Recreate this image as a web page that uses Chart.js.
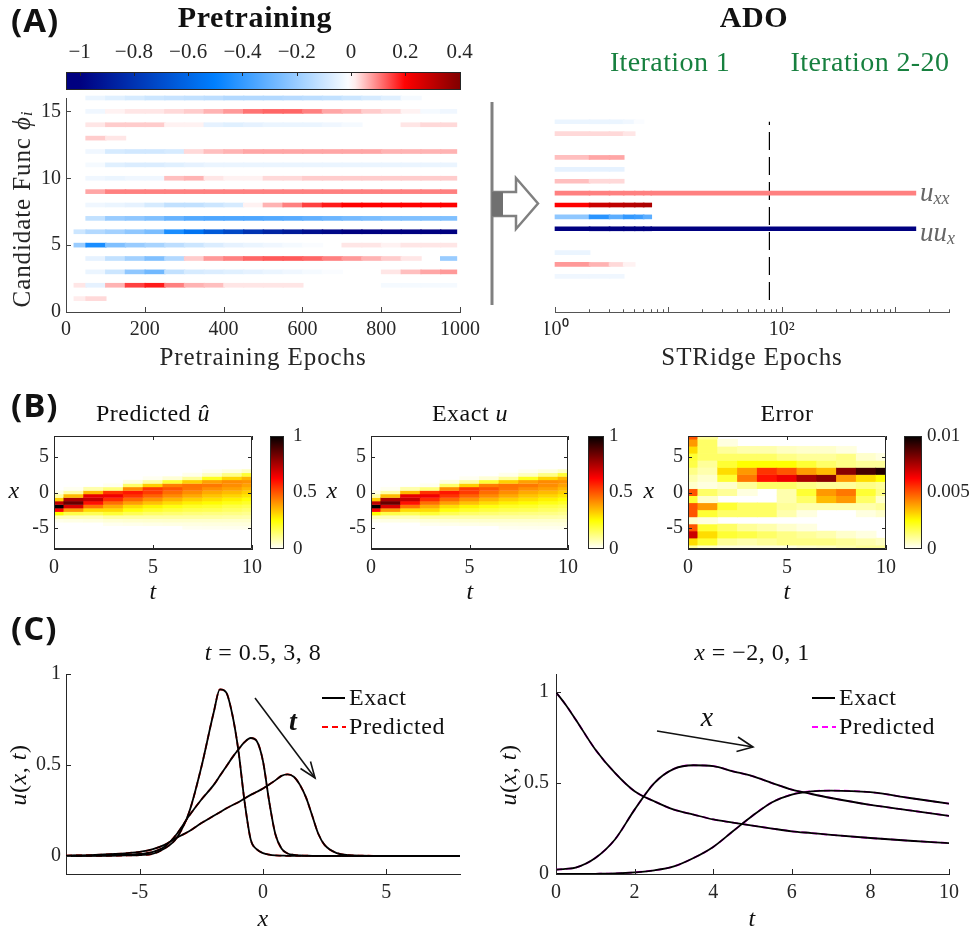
<!DOCTYPE html>
<html>
<head>
<meta charset="utf-8">
<script src="https://cdn.jsdelivr.net/npm/chart.js@4.4.0/dist/chart.umd.min.js"></script>
<style>
body { margin: 0; background: #fff; width: 969px; height: 937px; position: relative; overflow: hidden; }
canvas { position: absolute; }
#deco { position: absolute; left: 0; top: 0; pointer-events: none; }
</style>
</head>
<body>
<canvas id="cA"></canvas>
<canvas id="pre"></canvas>
<canvas id="ado"></canvas>
<canvas id="b1"></canvas><canvas id="cb1"></canvas>
<canvas id="b2"></canvas><canvas id="cb2"></canvas>
<canvas id="b3"></canvas><canvas id="cb3"></canvas>
<canvas id="c1"></canvas>
<canvas id="c2"></canvas>

<svg id="deco" width="969" height="937" font-family="Liberation Serif, Times New Roman, serif" fill="#111">
  <g font-family="Open Sans, sans-serif" font-weight="700" font-size="33" dominant-baseline="central" letter-spacing="1">
    <text x="11" y="19">(A)</text>
    <text x="11" y="404">(B)</text>
    <text x="11" y="627">(C)</text>
  </g>
  <g font-weight="700" font-size="30" text-anchor="middle" dominant-baseline="central" letter-spacing="0.6">
    <text x="255" y="16">Pretraining</text>
    <text x="754" y="16">ADO</text>
  </g>
  <g fill="#17803f" font-size="28" text-anchor="middle" dominant-baseline="central" letter-spacing="0.4">
    <text x="670" y="61">Iteration 1</text>
    <text x="870" y="61">Iteration 2-20</text>
  </g>
  <g font-size="25" text-anchor="middle" dominant-baseline="central" letter-spacing="0.9" fill="#262626">
    <text transform="translate(21 209) rotate(-90)">Candidate Func <tspan font-style="italic">ϕ</tspan><tspan font-style="italic" font-size="17" dy="5">i</tspan></text>
    <text x="263" y="356">Pretraining Epochs</text>
    <text x="752" y="356">STRidge Epochs</text>
  </g>
  <g fill="#666" font-size="27" font-style="italic" dominant-baseline="central">
    <text x="920" y="192">u<tspan font-size="18" dy="6">xx</tspan></text>
    <text x="920" y="232">uu<tspan font-size="18" dy="6">x</tspan></text>
  </g>
  <line x1="492" y1="102" x2="492" y2="305" stroke="#808080" stroke-width="3"/>
  <polygon points="493,192 516,192 516,178 538,203.5 516,229 516,216 493,216" fill="#fff" stroke="#808080" stroke-width="2.5"/>
  <rect x="492" y="192" width="11" height="24" fill="#707070"/>

  <g font-size="24" text-anchor="middle" dominant-baseline="central" letter-spacing="0.5" fill="#111">
    <text x="153" y="413">Predicted <tspan font-style="italic">û</tspan></text>
    <text x="470" y="413">Exact <tspan font-style="italic">u</tspan></text>
    <text x="787" y="413">Error</text>
    <text x="153" y="591" font-style="italic">t</text>
    <text x="470" y="591" font-style="italic">t</text>
    <text x="787" y="591" font-style="italic">t</text>
    <text x="14" y="490" font-style="italic">x</text>
    <text x="332" y="490" font-style="italic">x</text>
    <text x="649" y="490" font-style="italic">x</text>
    <text x="263" y="652"><tspan font-style="italic">t</tspan> = 0.5, 3, 8</text>
    <text x="752" y="652"><tspan font-style="italic">x</tspan> = −2, 0, 1</text>
    <text x="263" y="918" font-style="italic">x</text>
    <text x="752" y="918" font-style="italic">t</text>
    <text transform="translate(18 775) rotate(-90)"><tspan font-style="italic">u</tspan>(<tspan font-style="italic">x</tspan>, <tspan font-style="italic">t</tspan>)</text>
    <text transform="translate(508 775) rotate(-90)"><tspan font-style="italic">u</tspan>(<tspan font-style="italic">x</tspan>, <tspan font-style="italic">t</tspan>)</text>
  </g>

  <g stroke="#111" stroke-width="1.6" fill="none">
    <line x1="255" y1="698" x2="315" y2="778"/>
    <polyline points="300.5,768.5 315,778 310.5,761.5"/>
    <line x1="657" y1="731" x2="753" y2="747"/>
    <polyline points="738,737 753,747 736.5,751.5"/>
  </g>
  <text x="293" y="720" font-size="28" font-weight="700" font-style="italic" text-anchor="middle" dominant-baseline="central">t</text>
  <text x="707" y="716" font-size="28" font-style="italic" text-anchor="middle" dominant-baseline="central">x</text>

  <g stroke-width="2">
    <line x1="322" y1="698" x2="345" y2="698" stroke="#000"/>
    <line x1="322" y1="727" x2="346" y2="727" stroke="#ff0000" stroke-dasharray="6,4"/>
    <line x1="812" y1="698" x2="835" y2="698" stroke="#000"/>
    <line x1="812" y1="727" x2="836" y2="727" stroke="#ff00ff" stroke-dasharray="6,4"/>
  </g>
  <g font-size="24" dominant-baseline="central" letter-spacing="0.6">
    <text x="349" y="697">Exact</text>
    <text x="349" y="726">Predicted</text>
    <text x="839" y="697">Exact</text>
    <text x="839" y="726">Predicted</text>
  </g>
</svg>

<script>
// ---------------- data ----------------

// (A) pretraining: coefficient of each candidate function, per epoch bin
var epochEdges = [20, 50, 100, 150, 200, 250, 300, 350, 400, 450, 500, 550, 600, 650, 700, 750, 800, 850, 900, 950, 990]
var coef1  = [0.015, 0.03, 0, 0, 0, 0, 0, 0, 0, 0, 0, 0, 0, 0, 0, 0, 0, 0, 0, 0]
var coef2  = [0.02, -0.05, 0.06, 0.15, 0.18, 0.1, 0.06, 0.05, 0.02, 0.02, 0.02, 0.02, 0, 0, 0, 0, -0.02, -0.02, -0.02, -0.02]
var coef3  = [0, -0.04, -0.1, -0.22, -0.28, -0.12, -0.08, -0.07, -0.06, -0.05, -0.04, -0.03, -0.02, -0.01, 0, 0, 0.02, 0.05, 0.07, 0.08]
var coef4  = [0, -0.05, -0.12, -0.18, -0.25, -0.15, 0.04, 0.08, 0.1, 0.12, 0.13, 0.13, 0.12, 0.1, 0.08, 0.06, 0.04, 0.02, 0, -0.2]
var coef5  = [-0.2, -0.45, -0.25, -0.2, -0.17, -0.13, -0.1, -0.07, -0.05, -0.04, -0.03, -0.02, -0.01, 0, 0.02, 0.02, 0.01, 0.02, 0.02, 0.02]
var coef6  = [-0.1, -0.15, -0.18, -0.22, -0.26, -0.45, -0.55, -0.65, -0.72, -0.8, -0.86, -0.9, -0.94, -0.97, -1, -1, -1, -1, -1, -1]
var coef7  = [0, -0.12, -0.2, -0.22, -0.25, -0.3, -0.34, -0.35, -0.35, -0.35, -0.34, -0.33, -0.31, -0.29, -0.27, -0.26, -0.25, -0.25, -0.25, -0.25]
var coef8  = [0, -0.03, -0.04, -0.05, -0.08, -0.12, -0.12, -0.1, -0.08, 0.01, 0.06, 0.1, 0.15, 0.18, 0.2, 0.2, 0.2, 0.2, 0.2, 0.2]
var coef9  = [0, 0.07, 0.1, 0.1, 0.1, 0.1, 0.1, 0.1, 0.1, 0.1, 0.1, 0.1, 0.1, 0.1, 0.1, 0.1, 0.1, 0.1, 0.1, 0.1]
var coef10 = [0, -0.03, -0.04, -0.03, -0.03, 0.05, 0.06, 0.02, 0.01, 0.01, 0.03, 0.03, 0.04, 0.04, 0.04, 0.04, 0.04, 0.04, 0.04, 0.04]
var coef11 = [0, -0.02, -0.06, -0.07, -0.07, -0.06, -0.05, -0.04, -0.04, -0.04, -0.04, -0.04, -0.04, -0.04, -0.04, -0.04, -0.04, -0.04, -0.04, -0.04]
var coef12 = [0, -0.03, -0.08, -0.09, -0.09, -0.08, 0.03, 0.05, 0.06, 0.07, 0.07, 0.07, 0.07, 0.07, 0.07, 0.07, 0.06, 0.06, 0.06, 0.06]
var coef13 = [0, 0.04, 0.02, 0, 0, 0, 0, 0, 0, 0, 0, 0, 0, 0, 0, 0, 0, 0, 0, 0]
var coef14 = [0, 0.02, 0.04, 0.04, 0.04, 0.01, 0.01, -0.05, -0.06, -0.05, -0.04, -0.04, -0.04, -0.03, -0.02, 0, 0, 0.02, 0.03, 0.03]
var coef15 = [0, -0.03, 0.01, 0.02, 0.02, 0.03, 0.04, 0.06, 0.08, 0.11, 0.12, 0.12, 0.1, 0.07, 0.06, 0.04, 0.03, 0.01, -0.02, -0.03]
var coef16 = [0, -0.04, -0.06, -0.08, -0.1, -0.11, -0.12, -0.13, -0.15, -0.15, -0.15, -0.14, -0.13, -0.12, -0.1, -0.08, -0.06, -0.02, 0, 0]
var pretrainRows = [coef1, coef2, coef3, coef4, coef5, coef6, coef7, coef8, coef9, coef10, coef11, coef12, coef13, coef14, coef15, coef16]
var epochTicks = [0, 200, 400, 600, 800, 1000]
var funcTicks = [0, 5, 10, 15]
var cbTicksA = [-1, -0.8, -0.6, -0.4, -0.2, 0, 0.2, 0.4]
var cbRangeA = [-1.05, 0.405]

// (A) ADO: STRidge epochs (log axis), coefficient per segment
var adoEdges = [1, 2, 3, 4, 5, 6, 7, 1500]
var adoRowIds = [15, 14, 12, 11, 10, 9, 8, 7, 6, 4, 3, 2]
var ado15 = [-0.04, -0.04, -0.04, -0.03, -0.01, 0, 0]
var ado14 = [0.03, 0.03, 0.03, 0.02, 0, 0, 0]
var ado12 = [0.05, 0.07, 0.07, 0, 0, 0, 0]
var ado11 = [-0.05, -0.05, -0.05, 0, 0, 0, 0]
var ado10 = [0.05, 0.03, 0.03, 0, 0, 0, 0]
var ado9  = [0.1, 0.1, 0.1, 0.1, 0.1, 0.1, 0.1]
var ado8  = [0.2, 0.28, 0.3, 0.31, 0.32, 0.33, 0]
var ado7  = [-0.22, -0.42, -0.32, -0.4, -0.38, -0.32, 0]
var ado6  = [-1, -1, -1, -1, -1, -1, -1]
var ado4  = [-0.04, 0, 0, 0, 0, 0, 0]
var ado3  = [0.08, 0.06, 0.03, 0.01, 0, 0, 0]
var ado2  = [-0.03, -0.03, -0.03, 0, 0, 0, 0]
var adoRows = [ado15, ado14, ado12, ado11, ado10, ado9, ado8, ado7, ado6, ado4, ado3, ado2]
var adoSwitch = 78
var adoTickLabels = { 1: '10⁰', 100: '10²' }

// (B) u(x, t): one column per t, rows are x = -6 ... 4 (step 0.5)
var fieldT = [0, 1, 2, 3, 4, 5, 6, 7, 8, 9, 10]
var fieldX = [-6, -5.5, -5, -4.5, -4, -3.5, -3, -2.5, -2, -1.5, -1, -0.5, 0, 0.5, 1, 1.5, 2, 2.5, 3, 3.5, 4]
var uCols = [
  [0, 0, 0.002, 0.006, 0.02, 0.07, 0.25, 0.62, 1.0, 0.72, 0.32, 0.09, 0.024, 0.005, 0.001, 0, 0, 0, 0, 0, 0],
  [0, 0.001, 0.003, 0.008, 0.025, 0.07, 0.18, 0.4, 0.685, 0.85, 0.75, 0.35, 0.088, 0.015, 0.002, 0, 0, 0, 0, 0, 0],
  [0.001, 0.002, 0.005, 0.012, 0.03, 0.07, 0.17, 0.3, 0.455, 0.6, 0.71, 0.66, 0.354, 0.08, 0.009, 0.001, 0, 0, 0, 0, 0],
  [0.002, 0.004, 0.008, 0.016, 0.04, 0.09, 0.2, 0.3, 0.37, 0.46, 0.56, 0.645, 0.55, 0.13, 0.015, 0.003, 0.001, 0, 0, 0, 0],
  [0.003, 0.006, 0.01, 0.02, 0.045, 0.09, 0.17, 0.24, 0.3, 0.39, 0.47, 0.55, 0.593, 0.42, 0.149, 0.03, 0.004, 0.001, 0, 0, 0],
  [0.004, 0.007, 0.012, 0.024, 0.048, 0.09, 0.15, 0.21, 0.266, 0.34, 0.41, 0.48, 0.538, 0.54, 0.32, 0.09, 0.015, 0.002, 0, 0, 0],
  [0.005, 0.008, 0.014, 0.026, 0.05, 0.09, 0.14, 0.19, 0.235, 0.3, 0.36, 0.42, 0.464, 0.5, 0.437, 0.2, 0.04, 0.006, 0.001, 0, 0],
  [0.006, 0.009, 0.015, 0.028, 0.05, 0.09, 0.13, 0.175, 0.215, 0.27, 0.32, 0.375, 0.418, 0.455, 0.459, 0.32, 0.1, 0.02, 0.003, 0, 0],
  [0.007, 0.01, 0.017, 0.03, 0.05, 0.09, 0.125, 0.17, 0.205, 0.255, 0.295, 0.335, 0.375, 0.415, 0.448, 0.39, 0.22, 0.06, 0.015, 0.004, 0.001],
  [0.008, 0.011, 0.018, 0.031, 0.05, 0.085, 0.12, 0.155, 0.183, 0.23, 0.27, 0.31, 0.35, 0.39, 0.418, 0.42, 0.31, 0.12, 0.03, 0.006, 0.001],
  [0.009, 0.012, 0.019, 0.032, 0.05, 0.08, 0.11, 0.14, 0.17, 0.21, 0.245, 0.285, 0.32, 0.355, 0.387, 0.41, 0.36, 0.2, 0.06, 0.012, 0.002]
]
// (B) |u - û|: one column per t, rows are x = -8 ... 8 (step 1)
var errX = [-8, -7, -6, -5, -4, -3, -2, -1, 0, 1, 2, 3, 4, 5, 6, 7, 8]
var errCols = [
  [0.001, 0.003, 0.007, 0.005, 0.0005, 0.005, 0.005, 0.002, 0.005, 0.0005, 0.0008, 0.0012, 0.0018, 0.002, 0.003, 0.004, 0.005],
  [0.0005, 0.002, 0.003, 0.002, 0.0003, 0.002, 0.004, 0.0005, 0.0015, 0.0003, 0.0005, 0.0008, 0.001, 0.0015, 0.0015, 0.0015, 0.001],
  [0.0003, 0.001, 0.002, 0.0015, 0, 0.0015, 0.002, 0, 0.001, 0.0005, 0.002, 0.003, 0.002, 0.0015, 0.001, 0.0003, 0],
  [0.0003, 0.0008, 0.0018, 0.001, 0, 0.0015, 0.0015, 0, 0.0003, 0.001, 0.0045, 0.004, 0.0025, 0.0015, 0.0008, 0, 0],
  [0.0003, 0.001, 0.0015, 0.0008, 0, 0.0015, 0.0015, 0, 0, 0.0015, 0.006, 0.0055, 0.0025, 0.0015, 0.0008, 0, 0],
  [0.0003, 0.0012, 0.0012, 0.0005, 0, 0.0008, 0.001, 0.0008, 0.0008, 0.0015, 0.0065, 0.005, 0.0025, 0.0012, 0.0006, 0, 0],
  [0.0005, 0.0012, 0.001, 0.0003, 0, 0.0003, 0.0008, 0.0015, 0.002, 0.0012, 0.0075, 0.004, 0.002, 0.001, 0.0005, 0, 0],
  [0.0006, 0.0012, 0.0008, 0, 0, 0, 0.0008, 0.0035, 0.004, 0.001, 0.008, 0.0035, 0.0015, 0.001, 0.0005, 0, 0],
  [0.0008, 0.001, 0.0005, 0, 0, 0, 0.0008, 0.004, 0.0045, 0.001, 0.004, 0.008, 0.0012, 0.0012, 0.0003, 0, 0],
  [0.001, 0.0008, 0.0003, 0, 0, 0.0003, 0.0008, 0.0015, 0.002, 0.0012, 0.003, 0.009, 0.001, 0.0005, 0, 0, 0],
  [0.001, 0.0006, 0, 0, 0, 0.0005, 0.001, 0.0005, 0.0012, 0.001, 0.0025, 0.0095, 0.001, 0.0003, 0, 0, 0]
]
var heatTTicks = [0, 5, 10]
var heatXTicks = [-5, 0, 5]

// (C) snapshots u(x, t) at t = 0.5, 3, 8
var xGridC = [-8, -7, -6, -5.5, -5, -4.5, -4, -3.5, -3, -2.5, -2, -1.75, -1.5, -1.25, -1, -0.75, -0.5, -0.25, 0, 0.25, 0.5, 0.75, 1, 1.25, 1.5, 1.75, 2, 2.25, 2.5, 3, 3.5, 4, 5, 6, 7, 8]
var uT05 = [0, 0, 0.001, 0.002, 0.004, 0.01, 0.04, 0.1, 0.24, 0.49, 0.79, 0.915, 0.9, 0.78, 0.58, 0.3, 0.09, 0.035, 0.015, 0.006, 0.002, 0.001, 0, 0, 0, 0, 0, 0, 0, 0, 0, 0, 0, 0, 0, 0]
var uT3  = [0, 0.001, 0.003, 0.006, 0.01, 0.02, 0.05, 0.12, 0.22, 0.31, 0.39, 0.44, 0.49, 0.54, 0.585, 0.625, 0.648, 0.63, 0.52, 0.3, 0.12, 0.04, 0.013, 0.005, 0.002, 0.001, 0, 0, 0, 0, 0, 0, 0, 0, 0, 0]
var uT8  = [0.001, 0.004, 0.01, 0.015, 0.022, 0.035, 0.06, 0.1, 0.135, 0.18, 0.22, 0.24, 0.26, 0.278, 0.295, 0.315, 0.335, 0.352, 0.37, 0.392, 0.415, 0.44, 0.448, 0.435, 0.39, 0.32, 0.22, 0.12, 0.06, 0.015, 0.004, 0.001, 0, 0, 0, 0]
// (C) histories u(x, t) at x = -2, 0, 1
var tGridC = [0, 0.25, 0.5, 1, 1.5, 2, 2.5, 3, 3.5, 4, 4.5, 5, 5.5, 6, 6.5, 7, 8, 9, 10]
var uXm2 = [1.0, 0.93, 0.85, 0.685, 0.556, 0.455, 0.4, 0.354, 0.327, 0.3, 0.283, 0.266, 0.25, 0.235, 0.225, 0.215, 0.198, 0.183, 0.17]
var uX0  = [0.024, 0.028, 0.035, 0.088, 0.19, 0.354, 0.5, 0.578, 0.598, 0.593, 0.565, 0.538, 0.5, 0.464, 0.44, 0.418, 0.38, 0.35, 0.32]
var uX1  = [0, 0, 0, 0.001, 0.003, 0.009, 0.02, 0.042, 0.088, 0.149, 0.235, 0.32, 0.395, 0.437, 0.455, 0.459, 0.45, 0.418, 0.387]
// the network prediction lies on the exact curves within a line width
var predT05 = uT05, predT3 = uT3, predT8 = uT8
var predXm2 = uXm2, predX0 = uX0, predX1 = uX1
var xTicksC = [-5, 0, 5]
var tTicksC = [0, 2, 4, 6, 8, 10]
var uTicksC = [0, 0.5, 1]

// ---------------- helpers ----------------
var serif = '"Liberation Serif", "Times New Roman", serif'
var ink = '#262626'
Chart.defaults.animation = false
Chart.defaults.responsive = false
Chart.defaults.events = []
Chart.defaults.plugins.legend.display = false
Chart.defaults.plugins.tooltip.enabled = false

function rgb(c) { return 'rgb(' + Math.round(c[0]) + ',' + Math.round(c[1]) + ',' + Math.round(c[2]) + ')' }
var bwrStops = [[-1, [0, 0, 128]], [-0.5, [0, 128, 255]], [0, [255, 255, 255]], [0.2, [255, 0, 0]], [0.4, [128, 0, 0]]]
function bwr(v) {
  v = Math.max(-1, Math.min(0.4, v))
  for (var i = 1; i < bwrStops.length; i++) {
    var a = bwrStops[i - 1], b = bwrStops[i]
    if (v <= b[0]) {
      var f = (v - a[0]) / (b[0] - a[0])
      return rgb([0, 1, 2].map(function (k) { return a[1][k] + f * (b[1][k] - a[1][k]) }))
    }
  }
  return rgb(bwrStops[bwrStops.length - 1][1])
}
// reversed "hot" colour map, v in 0..1
function hotR(v) {
  var s = 1 - Math.max(0, Math.min(1, v))
  return rgb([255 * Math.min(1, s / 0.375), 255 * Math.max(0, Math.min(1, (s - 0.375) / 0.375)), 255 * Math.max(0, (s - 0.75) / 0.25)])
}
function fmt(v) { return String(Math.round(v * 10000) / 10000) }
function minus(v) { return fmt(v).replace('-', '−') }
function mount(id, area, m) {
  var c = document.getElementById(id)
  c.width = area[2] - area[0] + m[0] + m[2]
  c.height = area[3] - area[1] + m[1] + m[3]
  c.style.left = (area[0] - m[0]) + 'px'
  c.style.top = (area[1] - m[1]) + 'px'
  return c
}
// margins m = [left, top, right, bottom]; sides taken by a visible axis get no layout padding
function pad(m, axes) {
  var p = { left: m[0], top: m[1], right: m[2], bottom: m[3] }
  ;(axes || []).forEach(function (k) { p[k] = 0 })
  return p
}
function axis(o) {
  return {
    type: o.type || 'linear', position: o.pos, min: o.min, max: o.max, display: true, offset: false,
    grid: { display: false, drawTicks: false },
    border: { display: o.line !== false, color: o.lineColor || ink, width: 1 },
    ticks: { color: ink, padding: o.padding || 6, autoSkip: false, maxRotation: 0,
             font: { family: serif, size: o.size || 20 }, callback: o.fmt || fmt },
    afterBuildTicks: o.afterBuildTicks || (o.ticks ? function (s) { s.ticks = o.ticks.map(function (v) { return { value: v } }) } : undefined),
    afterFit: function (s) {
      if (s.isHorizontal()) s.height = o.fit; else s.width = o.fit
      s.paddingLeft = s.paddingRight = s.paddingTop = s.paddingBottom = 0
    }
  }
}
function isPow10(v) { var l = Math.log10(v); return Math.abs(l - Math.round(l)) < 1e-9 }

// inward MATLAB style tick marks (and optional box)
Chart.register({
  id: 'inTicks',
  afterDatasetsDraw: function (chart, args, o) {
    if (!o || !o.len) return
    var ctx = chart.ctx, a = chart.chartArea
    ctx.save()
    ctx.strokeStyle = o.color || ink
    ctx.lineWidth = 1
    ctx.beginPath()
    Object.keys(chart.scales).forEach(function (id) {
      var s = chart.scales[id]
      if (!s.options.display) return
      s.ticks.forEach(function (t) {
        var len = (o.minor && !isPow10(t.value)) ? o.len * 0.55 : o.len
        var p = Math.round(s.getPixelForValue(t.value)) + 0.5
        if (s.isHorizontal()) {
          if (s.position === 'top' || o.box) { ctx.moveTo(p, a.top); ctx.lineTo(p, a.top + len) }
          if (s.position === 'bottom' || o.box) { ctx.moveTo(p, a.bottom); ctx.lineTo(p, a.bottom - len) }
        } else {
          if (s.position === 'left' || o.box) { ctx.moveTo(a.left, p); ctx.lineTo(a.left + len, p) }
          if (s.position === 'right' || o.box) { ctx.moveTo(a.right, p); ctx.lineTo(a.right - len, p) }
        }
      })
    })
    if (o.box) ctx.rect(Math.round(a.left) + 0.5, Math.round(a.top) + 0.5, Math.round(a.width) - 1, Math.round(a.height) - 1)
    ctx.stroke()
    ctx.restore()
  }
})
// colour bar fill
Chart.register({
  id: 'cbar',
  beforeDatasetsDraw: function (chart, args, o) {
    if (!o || !o.map) return
    var ctx = chart.ctx, a = chart.chartArea
    var g = o.dir === 'x' ? ctx.createLinearGradient(a.left, 0, a.right, 0) : ctx.createLinearGradient(0, a.bottom, 0, a.top)
    for (var i = 0; i <= 56; i++) g.addColorStop(i / 56, o.map(o.min + (o.max - o.min) * i / 56))
    ctx.save()
    ctx.fillStyle = g
    ctx.fillRect(a.left, a.top, a.width, a.height)
    ctx.strokeStyle = ink
    ctx.lineWidth = 1
    ctx.strokeRect(Math.round(a.left) + 0.5, Math.round(a.top) + 0.5, Math.round(a.width) - 1, Math.round(a.height) - 1)
    ctx.restore()
  }
})

// ---------------- (A) colour bar ----------------
var mA = [30, 40, 30, 5]
new Chart(mount('cA', [66, 72, 461, 90], mA), {
  type: 'scatter',
  data: { datasets: [] },
  options: {
    layout: { padding: pad(mA, ['top']) },
    scales: {
      x: axis({ pos: 'top', min: cbRangeA[0], max: cbRangeA[1], ticks: cbTicksA, fmt: minus, size: 21, padding: 7, line: false, fit: mA[1] }),
      y: { type: 'linear', display: false, min: 0, max: 1 }
    },
    plugins: { cbar: { map: bwr, min: cbRangeA[0], max: cbRangeA[1], dir: 'x' }, inTicks: { len: 4 } }
  }
})

// ---------------- (A) pretraining ----------------
var preCells = [], preColors = []
pretrainRows.forEach(function (vals, k) {
  vals.forEach(function (v, j) {
    if (Math.abs(v) < 0.005) return
    preCells.push({ y: k + 1, x: [epochEdges[j], epochEdges[j + 1] + 2] })
    preColors.push(bwr(v))
  })
})
var mPre = [60, 10, 30, 40]
new Chart(mount('pre', [66, 98, 460, 312], mPre), {
  type: 'bar',
  data: { datasets: [{ data: preCells, backgroundColor: preColors, barThickness: 4, borderWidth: 0, clip: false }] },
  options: {
    indexAxis: 'y',
    layout: { padding: pad(mPre, ['left', 'bottom']) },
    scales: {
      x: axis({ pos: 'bottom', min: 0, max: 1000, ticks: epochTicks, lineColor: '#444', fit: mPre[3] }),
      y: axis({ pos: 'left', min: 0, max: 16, ticks: funcTicks, lineColor: '#444', padding: 5, fit: mPre[0] })
    },
    plugins: { inTicks: { len: 5, color: '#444' } }
  }
})

// ---------------- (A) ADO ----------------
var adoCells = [], adoColors = []
adoRows.forEach(function (vals, k) {
  vals.forEach(function (v, j) {
    if (Math.abs(v) < 0.005) return
    adoCells.push({ y: adoRowIds[k], x: [adoEdges[j], adoEdges[j + 1] * 1.02] })
    adoColors.push(bwr(v))
  })
})
var mAdo = [10, 10, 18, 40]
new Chart(mount('ado', [555, 98, 949, 312], mAdo), {
  type: 'bar',
  data: {
    datasets: [
      { data: adoCells, backgroundColor: adoColors, barThickness: 4, borderWidth: 0, clip: false },
      { type: 'line', data: [{ x: adoSwitch, y: 0 }, { x: adoSwitch, y: 15 }], borderColor: '#000', borderWidth: 1.2,
        borderDash: [18, 7], pointRadius: 0, clip: false }
    ]
  },
  options: {
    indexAxis: 'y',
    layout: { padding: pad(mAdo, ['bottom']) },
    scales: {
      x: axis({ type: 'logarithmic', pos: 'bottom', min: 1, max: 3000, lineColor: '#555', fit: mAdo[3],
        fmt: function (v) { return adoTickLabels[v] || '' },
        afterBuildTicks: function (s) {
          s.ticks = s.ticks.filter(function (t) {
            var p = Math.pow(10, Math.floor(Math.log10(t.value) + 1e-9)), q = t.value / p
            return Math.abs(q - Math.round(q)) < 1e-6
          })
        } }),
      y: { type: 'linear', display: false, min: 0, max: 16 }
    },
    plugins: { inTicks: { len: 5, minor: true, color: '#555' } }
  }
})

// ---------------- (B) heat maps ----------------
function heat(id, area, ys, cols, step, scaleMax) {
  var cells = [], colors = []
  cols.forEach(function (col, i) {
    col.forEach(function (v, j) {
      if (v / scaleMax < 0.015) return
      cells.push({ x: fieldT[i], y: [ys[j] - step / 2, ys[j] + step / 2 + step * 0.08] })
      colors.push(hotR(v / scaleMax))
    })
  })
  var m = [40, 10, 14, 35]
  new Chart(mount(id, area, m), {
    type: 'bar',
    data: { datasets: [{ data: cells, backgroundColor: colors, borderWidth: 0, barPercentage: 1.04, categoryPercentage: 1, clip: 0 }] },
    options: {
      layout: { padding: pad(m, ['left', 'bottom']) },
      scales: {
        x: axis({ pos: 'bottom', min: 0, max: 10, ticks: heatTTicks, padding: 7, fit: m[3] }),
        y: axis({ pos: 'left', min: -8, max: 8, ticks: heatXTicks, padding: 5, fit: m[0] })
      },
      plugins: { inTicks: { len: 4, box: true } }
    }
  })
}
function colorbar(id, area, max, ticks, padding) {
  var m = [3, 12, 48, 12]
  new Chart(mount(id, area, m), {
    type: 'scatter',
    data: { datasets: [] },
    options: {
      layout: { padding: pad(m, ['right']) },
      scales: {
        x: { type: 'linear', display: false, min: 0, max: 1 },
        y: axis({ pos: 'right', min: 0, max: max, ticks: ticks, size: 19, padding: padding, line: false, fit: m[2] })
      },
      plugins: { cbar: { map: function (v) { return hotR(v / max) }, min: 0, max: max, dir: 'y' } }
    }
  })
}
heat('b1', [54, 436, 252, 549], fieldX, uCols, 0.5, 1)
colorbar('cb1', [270, 436, 284, 549], 1, [0, 0.5, 1], 9)
heat('b2', [371, 436, 568, 549], fieldX, uCols, 0.5, 1)
colorbar('cb2', [588, 436, 604, 549], 1, [0, 0.5, 1], 5)
heat('b3', [688, 436, 886, 549], errX, errCols, 1, 0.01)
colorbar('cb3', [904, 436, 922, 549], 0.01, [0, 0.005, 0.01], 5)

// ---------------- (C) line plots ----------------
function pts(xs, ys) { return xs.map(function (x, i) { return { x: x, y: ys[i] } }) }
function curve(data, color, dashed) {
  return { data: data, borderColor: color, borderWidth: 1.8, borderDash: dashed ? [6, 4] : [], pointRadius: 0,
           cubicInterpolationMode: 'monotone', fill: false }
}
var mC = [60, 12, 15, 35]
new Chart(mount('c1', [66, 674, 460, 874], mC), {
  type: 'line',
  data: {
    datasets: [
      curve(pts(xGridC, uT05), '#000'), curve(pts(xGridC, uT3), '#000'), curve(pts(xGridC, uT8), '#000'),
      curve(pts(xGridC, predT05), '#ff0000', true), curve(pts(xGridC, predT3), '#ff0000', true), curve(pts(xGridC, predT8), '#ff0000', true)
    ]
  },
  options: {
    layout: { padding: pad(mC, ['left', 'bottom']) },
    scales: {
      x: axis({ pos: 'bottom', min: -8, max: 8, ticks: xTicksC, padding: 7, fit: mC[3] }),
      y: axis({ pos: 'left', min: -0.1, max: 1, ticks: uTicksC, padding: 5, fit: mC[0] })
    },
    plugins: { inTicks: { len: 5 } }
  }
})
new Chart(mount('c2', [556, 674, 949, 874], mC), {
  type: 'line',
  data: {
    datasets: [
      curve(pts(tGridC, uXm2), '#000'), curve(pts(tGridC, uX0), '#000'), curve(pts(tGridC, uX1), '#000'),
      curve(pts(tGridC, predXm2), '#ff00ff', true), curve(pts(tGridC, predX0), '#ff00ff', true), curve(pts(tGridC, predX1), '#ff00ff', true)
    ]
  },
  options: {
    layout: { padding: pad(mC, ['left', 'bottom']) },
    scales: {
      x: axis({ pos: 'bottom', min: 0, max: 10, ticks: tTicksC, padding: 7, fit: mC[3] }),
      y: axis({ pos: 'left', min: 0, max: 1.1, ticks: uTicksC, padding: 7, fit: mC[0] })
    },
    plugins: { inTicks: { len: 5 } }
  }
})
</script>
</body>
</html>
